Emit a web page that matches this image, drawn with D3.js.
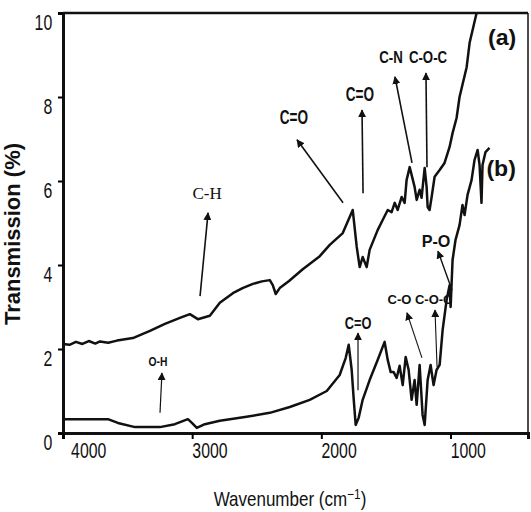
<!DOCTYPE html>
<html>
<head>
<meta charset="utf-8">
<script src="https://cdn.jsdelivr.net/npm/d3@7"></script>
<style>
  body { margin: 0; background: #fff; }
  .tick text { font-family: "Liberation Sans", Arial, sans-serif; font-size: 22px; fill: #111; }
  .note { font-family: "Liberation Sans", Arial, sans-serif; font-weight: bold; fill: #111; }
</style>
</head>
<body>
<svg id="chart" width="531" height="512"></svg>
<script>
// wavenumber (cm-1) and transmission (%)
const waveA = [4000, 3950, 3900, 3850, 3800, 3750, 3714, 3650, 3582, 3459, 3327, 3211, 3095, 3018, 2956, 2863, 2786, 2685, 2610, 2530, 2460, 2399, 2376, 2353, 2322, 2250, 2144, 2012, 1935, 1834, 1757, 1726, 1703, 1680, 1649, 1626, 1564, 1525, 1486, 1456, 1432, 1409, 1378, 1355, 1340, 1316, 1278, 1262, 1239, 1224, 1200, 1185, 1177, 1162, 1146, 1123, 1084, 1046, 1007, 984, 953, 930, 875, 852, 798]
const transA = [2.12, 2.1, 2.17, 2.12, 2.19, 2.13, 2.18, 2.15, 2.2, 2.26, 2.43, 2.6, 2.74, 2.83, 2.71, 2.79, 3.1, 3.33, 3.45, 3.55, 3.61, 3.64, 3.52, 3.31, 3.45, 3.62, 3.9, 4.21, 4.48, 4.76, 5.31, 4.43, 3.95, 4.19, 3.95, 4.36, 4.83, 5.07, 5.31, 5.26, 5.48, 5.31, 5.62, 5.48, 6.02, 6.33, 5.86, 5.55, 5.79, 5.6, 6.31, 5.86, 5.38, 5.31, 5.62, 6.1, 6.26, 6.43, 6.81, 7.14, 7.5, 8.0, 8.71, 9.29, 10.0]

const waveB = [4000, 3652, 3575, 3443, 3250, 3134, 3033, 3002, 2964, 2902, 2786, 2592, 2399, 2244, 2090, 1958, 1858, 1811, 1788, 1765, 1749, 1734, 1711, 1680, 1626, 1564, 1510, 1486, 1463, 1440, 1417, 1394, 1370, 1347, 1324, 1301, 1278, 1262, 1239, 1216, 1200, 1177, 1154, 1131, 1108, 1084, 1061, 1030, 1007, 999, 984, 961, 930, 907, 891, 868, 837, 814, 790, 775, 760, 752, 729, 698]
const transB = [0.33, 0.33, 0.24, 0.14, 0.14, 0.21, 0.33, 0.24, 0.12, 0.21, 0.29, 0.38, 0.48, 0.62, 0.79, 1.0, 1.38, 1.79, 2.1, 1.5, 0.79, 0.19, 0.36, 0.79, 1.26, 1.74, 2.17, 1.74, 1.45, 1.45, 1.31, 1.6, 1.14, 1.81, 1.5, 0.79, 1.26, 0.67, 1.62, 0.43, 0.19, 1.26, 1.62, 1.14, 1.5, 1.62, 2.45, 3.17, 3.52, 3.0, 4.12, 4.6, 4.95, 5.43, 5.19, 5.67, 6.02, 6.5, 6.74, 6.38, 5.48, 6.38, 6.69, 6.79]

const xTicks = [4000, 3000, 2000, 1000]
const yTicks = [0, 2, 4, 6, 8, 10]

// peak labels (text at wn/t) and their arrows (from -> tip), in data units
const noteLabels = ['C-H', 'C=O', 'C=O', 'C-N', 'C-O-C', 'P-O', 'O-H', 'C=O', 'C-O C-O-C', '(a)', '(b)']
const noteWave = [2885, 2212, 1701, 1461, 1174, 1112, 3265, 1716, 1236, 600, 608]
const noteTrans = [5.71, 7.52, 8.07, 8.95, 8.95, 4.57, 1.69, 2.6, 3.19, 9.41, 6.31]
const arrows = [
  [2939, 3.26, 2877, 5.24],
  [1832, 5.48, 2188, 6.98],
  [1677, 5.71, 1685, 7.69],
  [1298, 6.43, 1430, 8.48],
  [1182, 6.33, 1190, 8.57],
  [988, 3.4, 1097, 4.33],
  [3249, 0.48, 3234, 1.43],
  [1716, 1.02, 1716, 2.38],
  [1221, 1.79, 1337, 2.86],
  [1104, 1.57, 1120, 2.93]
]

// look of each label: font size, horizontal squeeze, serif
const noteSize = [17, 20, 20, 17, 17, 17, 12, 16, 13, 22, 22]
const noteSqueeze = [1, 0.68, 0.68, 0.78, 0.78, 0.95, 0.86, 0.8, 1, 1.05, 1.05]
const arrowWidth = [1.6, 1.6, 1.6, 1.6, 1.6, 1.4, 1.2, 1.2, 1.1, 1.1]

const svg = d3.select('#chart')
const margin = { top: 13, right: 3, bottom: 79, left: 63 }
const width = +svg.attr('width') - margin.left - margin.right
const height = +svg.attr('height') - margin.top - margin.bottom

const x = d3.scaleLinear().domain([4000, 400]).range([0, width])
const y = d3.scaleLinear().domain([0, 10]).range([height, 0])

const g = svg.append('g').attr('transform', `translate(${margin.left},${margin.top})`)

svg.append('defs').append('marker')
  .attr('id', 'head')
  .attr('viewBox', '0 0 10 10')
  .attr('refX', 9).attr('refY', 5)
  .attr('markerWidth', 8).attr('markerHeight', 8)
  .attr('markerUnits', 'userSpaceOnUse')
  .attr('orient', 'auto')
  .append('path').attr('d', 'M0,0L10,5L0,10z').attr('fill', '#111')

// frame
g.append('line').attr('x1', 0).attr('x2', width).attr('y1', 0).attr('y2', 0)
  .attr('stroke', '#111').attr('stroke-width', 2.5)
g.append('line').attr('x1', width).attr('x2', width).attr('y1', 0).attr('y2', height)
  .attr('stroke', '#111').attr('stroke-width', 1.5)

const yAxisG = g.append('g')
  .call(d3.axisLeft(y).tickValues(yTicks).tickSize(5))
yAxisG.select('.domain').attr('stroke-width', 3).attr('stroke', '#111')
yAxisG.selectAll('.tick line').attr('stroke-width', 2)
yAxisG.selectAll('.tick text')
  .attr('x', -15)
  .attr('dy', '0.75em')
  .attr('transform', 'scale(0.72,1)')

const xAxisG = g.append('g')
  .attr('transform', `translate(0,${height})`)
  .call(d3.axisBottom(x).tickValues(xTicks).tickFormat(d3.format('d')).tickSize(6).tickPadding(3))
xAxisG.select('.domain').attr('stroke-width', 3).attr('stroke', '#111')
xAxisG.selectAll('.tick line').attr('stroke-width', 2)
xAxisG.selectAll('.tick text')
  .attr('dx', d => d === 4000 ? 35 : 24)
  .attr('transform', 'scale(0.72,1)')

g.append('text')
  .attr('transform', `translate(${-43},${height / 2 + 11}) rotate(-90)`)
  .attr('text-anchor', 'middle')
  .attr('font-family', '"Liberation Sans", Arial, sans-serif')
  .attr('font-weight', 'bold')
  .attr('font-size', 22)
  .attr('fill', '#111')
  .text('Transmission (%)')

const xTitle = g.append('text')
  .attr('transform', `translate(${290 - margin.left},${506 - margin.top}) scale(0.85,1)`)
  .attr('text-anchor', 'middle')
  .attr('font-family', '"Liberation Sans", Arial, sans-serif')
  .attr('font-size', 20)
  .attr('fill', '#111')
xTitle.append('tspan').text('Wavenumber (cm')
xTitle.append('tspan').attr('dy', -7).attr('font-size', 14).text('\u22121')
xTitle.append('tspan').attr('dy', 7).text(')')

const line = d3.line()
  .x(d => x(d[0]))
  .y(d => y(d[1]))

g.append('path')
  .attr('d', line(d3.zip(waveA, transA)))
  .attr('fill', 'none').attr('stroke', '#111').attr('stroke-width', 2.5)
  .attr('stroke-linejoin', 'round')

g.append('path')
  .attr('d', line(d3.zip(waveB, transB)))
  .attr('fill', 'none').attr('stroke', '#111').attr('stroke-width', 2.5)
  .attr('stroke-linejoin', 'round')

g.selectAll('.arrow')
  .data(arrows)
  .enter()
  .append('line')
  .attr('class', 'arrow')
  .attr('x1', d => x(d[0])).attr('y1', d => y(d[1]))
  .attr('x2', d => x(d[2])).attr('y2', d => y(d[3]))
  .attr('stroke', '#111')
  .attr('stroke-width', (d, i) => arrowWidth[i])
  .attr('marker-end', 'url(#head)')

g.selectAll('.note')
  .data(noteLabels)
  .enter()
  .append('text')
  .attr('class', 'note')
  .attr('transform', (d, i) => `translate(${x(noteWave[i])},${y(noteTrans[i])}) scale(${noteSqueeze[i]},1)`)
  .attr('dy', '0.35em')
  .attr('text-anchor', 'middle')
  .attr('font-size', (d, i) => noteSize[i])
  .style('font-family', (d, i) => i === 0 ? '"Liberation Serif", "Times New Roman", serif' : null)
  .style('font-weight', (d, i) => i === 0 ? 'normal' : null)
  .text(d => d)
</script>
</body>
</html>
